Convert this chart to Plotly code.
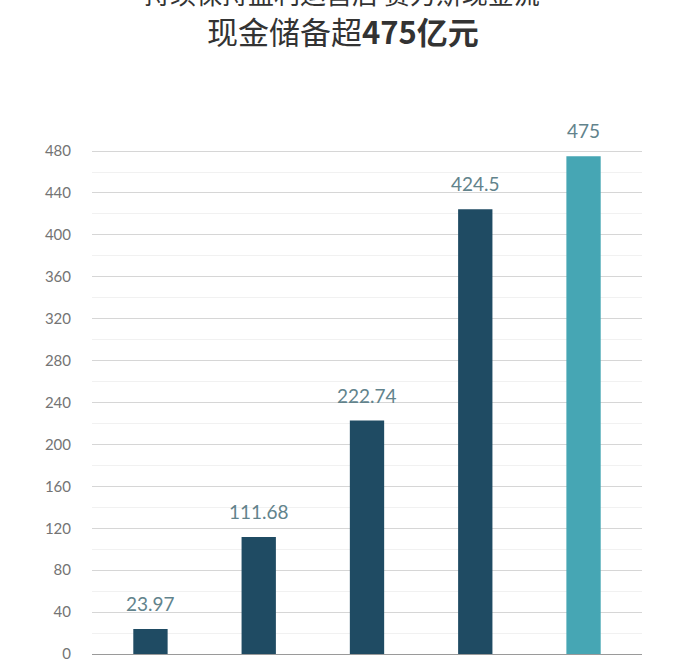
import plotly.graph_objects as go

categories = ["A", "B", "C", "D", "E"]
values = [23.97, 111.68, 222.74, 424.5, 475]
labels = ["23.97", "111.68", "222.74", "424.5", "475"]
bar_colors = ["#1f4b63", "#1f4b63", "#1f4b63", "#1f4b63", "#46a6b4"]
tick_vals = [0, 40, 80, 120, 160, 200, 240, 280, 320, 360, 400, 440, 480]

W, H = 677, 666
ml, mr, mt, mb = 92, 35, 150, 12
ph = H - mt - mb

fig = go.Figure()
fig.add_trace(go.Bar(
    x=list(range(len(categories))),
    y=values,
    width=0.317,
    marker=dict(color=bar_colors, line=dict(width=0)),
    hoverinfo="skip",
))

def py(p):
    return (H - mb - p) / ph

annotations = []
for i, (v, t) in enumerate(zip(values, labels)):
    annotations.append(dict(
        x=i, y=v, xref="x", yref="y", text=t, showarrow=False,
        xanchor="center", yanchor="bottom", yshift=12,
        font=dict(family="Lato, Open Sans, sans-serif", size=19, color="#62838c"),
    ))

annotations += [
    dict(xref="paper", yref="paper", x=(342 - ml) / (W - ml - mr), y=py(-8),
         text="持续保持盈利运营后 赛力斯现金流", showarrow=False,
         xanchor="center", yanchor="middle",
         font=dict(family="Noto Sans CJK SC", size=26, color="#333333")),
    dict(xref="paper", yref="paper", x=(343 - ml) / (W - ml - mr), y=py(31),
         text="现金储备超<b>475亿元</b>", showarrow=False,
         xanchor="center", yanchor="middle",
         font=dict(family="Noto Sans CJK SC", size=31, color="#333333")),
]

fig.update_layout(
    width=W, height=H,
    margin=dict(l=ml, r=mr, t=mt, b=mb, autoexpand=False),
    paper_bgcolor="white", plot_bgcolor="white",
    showlegend=False,
    xaxis=dict(range=[-0.54, 4.54], showticklabels=False, showgrid=False,
               zeroline=False, showline=False, ticks="", automargin=False),
    yaxis=dict(range=[0, 481], tickvals=tick_vals, automargin=False,
               showgrid=True, gridcolor="#d6d6d6", gridwidth=1,
               minor=dict(dtick=20, showgrid=True, gridcolor="#f1f1f1", gridwidth=1),
               zeroline=True, zerolinecolor="#9a9a9a", zerolinewidth=1.2,
               showline=False, ticks="", ticklabelstandoff=20,
               tickfont=dict(family="Lato, Open Sans, sans-serif", size=15, color="#747474")),
    annotations=annotations,
)

css_js = (
    "var s=document.createElement('style');"
    "s.innerHTML='html,body{margin:0;padding:0;overflow:hidden;height:666px;}"
    "body>div{height:666px;overflow:hidden;}';"
    "document.head.appendChild(s);"
)

fig.write_html("out.html", config={"displayModeBar": False}, post_script=css_js)
